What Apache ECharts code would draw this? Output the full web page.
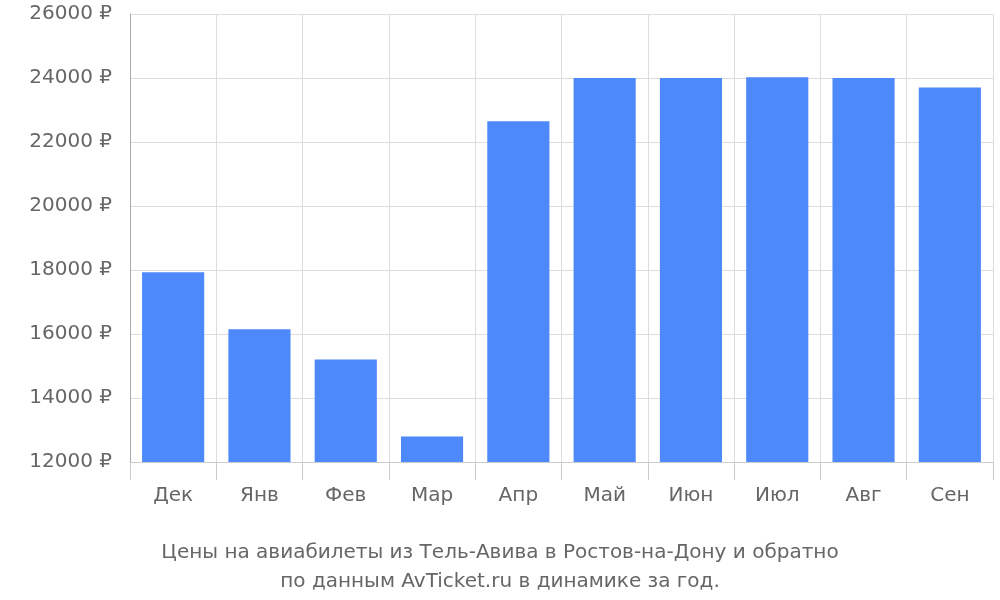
<!DOCTYPE html>
<html><head><meta charset="utf-8">
<script src="https://cdn.jsdelivr.net/npm/echarts@6/dist/echarts.min.js"></script>
<style>html,body{margin:0;padding:0;background:#fff}#c{width:1000px;height:600px}</style>
</head><body><div id="c"></div>
<script>
const categories = ["Дек","Янв","Фев","Мар","Апр","Май","Июн","Июл","Авг","Сен"];
const prices = [17930,16150,15200,12800,22650,24000,24000,24020,24000,23700];
const titleLines = ["Цены на авиабилеты из Тель-Авива в Ростов-на-Дону и обратно","по данным AvTicket.ru в динамике за год."];
const chart = echarts.init(document.getElementById('c'));
chart.setOption({
  animation:false,
  textStyle:{fontFamily:"DejaVu Sans"},
  title:{text:titleLines.join("\n"),left:'center',top:533,textStyle:{fontSize:20,fontWeight:'normal',color:'#666',lineHeight:29,fontFamily:"DejaVu Sans"}},
  grid:{left:130,right:7,top:14,bottom:138},
  xAxis:{type:'category',data:categories,
    axisLine:{show:true,lineStyle:{color:'#ccc'}},
    axisTick:{show:true,length:18,lineStyle:{color:'#ccc'}},
    splitLine:{show:true,lineStyle:{color:'#ddd'}},
    axisLabel:{fontSize:20,color:'#666',margin:24}},
  yAxis:{type:'value',min:12000,max:26000,interval:2000,
    axisLine:{show:true,lineStyle:{color:'#aaa'}},
    axisTick:{show:false},
    splitLine:{lineStyle:{color:'#ddd'}},
    axisLabel:{fontSize:20,color:'#666',margin:18,formatter:v=>v+' ₽'}},
  series:[{type:'bar',data:prices,barCategoryGap:'28%',itemStyle:{color:'#4d89fb'}}]
});
</script></body></html>
